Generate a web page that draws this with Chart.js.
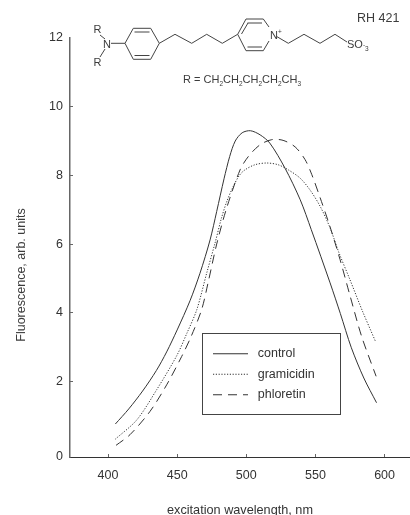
<!DOCTYPE html>
<html>
<head>
<meta charset="utf-8">
<script src="https://cdn.jsdelivr.net/npm/chart.js@4"></script>
<style>
    html, body { margin: 0; padding: 0; background: #fff; }
    #wrap { position: relative; width: 410px; height: 515px; }
    #mol { position: absolute; left: 0; top: 0; pointer-events: none; }
    #mol text { font-family: "Liberation Sans", Arial, sans-serif; font-size: 11px; fill: #3c3c3c; }
    #mol .sub { font-size: 6.5px; }
    #mol .big { font-size: 12.5px; }
</style>
</head>
<body>
<div id="wrap">
    <canvas id="chart" width="410" height="515"></canvas>
    <svg id="mol" width="410" height="515" fill="none" stroke="#444" stroke-width="1">
        <polygon points="125,43.3 133.3,28.3 150.7,28.3 159.3,43.3 150.7,59.3 133.3,59.3"/>
        <path d="M134.5,32 H149.5 M134.5,55.5 H149.5"/>
        <polyline points="159.3,43.3 175,34.3 191.7,43.3 206.7,34.3 222.3,43.3 237.7,34.3"/>
        <polyline points="269,27 263.3,19 246,19 237.7,34.3 246,50.7 263.3,50.7 269,41"/>
        <path d="M247.5,23 H262 M247.5,47 H262 M241.5,34 L248,23"/>
        <polyline points="277,36.7 288.3,43.3 304,34.3 320,43.3 335,34.3 347,42"/>
        <path d="M111,43.3 H125 M100,35 L105,39 M100,57 L105,49"/>
        <g stroke="none">
            <text x="93.5" y="33">R</text>
            <text x="103" y="48">N</text>
            <text x="93.5" y="66">R</text>
            <text x="270" y="39">N<tspan class="sub" dy="-5">+</tspan></text>
            <text x="347" y="48">SO<tspan class="sub" dy="-1">-</tspan><tspan class="sub" dy="4">3</tspan></text>
            <text class="big" x="357" y="22">RH 421</text>
            <text x="183" y="83">R = CH<tspan class="sub" dy="3">2</tspan><tspan dy="-3">CH</tspan><tspan class="sub" dy="3">2</tspan><tspan dy="-3">CH</tspan><tspan class="sub" dy="3">2</tspan><tspan dy="-3">CH</tspan><tspan class="sub" dy="3">2</tspan><tspan dy="-3">CH</tspan><tspan class="sub" dy="3">3</tspan></text>
            <text class="big" text-anchor="middle" transform="translate(25,275) rotate(-90)">Fluorescence, arb. units</text>
        </g>
    </svg>
</div>
<script>
const seriesNames = ['control', 'gramicidin', 'phloretin'];

const controlX = [405.3, 415, 425, 435, 442.4, 450, 459.3, 466.5, 473.8, 478.6, 483.9, 488, 492, 497, 503, 510, 517, 528, 539, 547, 560.6, 568, 576, 585, 594.2];
const controlY = [0.76, 1.2, 1.72, 2.32, 2.86, 3.5, 4.35, 5.15, 6.12, 6.95, 7.9, 8.55, 9.0, 9.24, 9.3, 9.18, 8.94, 8.21, 7.29, 6.42, 4.87, 3.98, 2.98, 2.1, 1.38];

const gramicidinX = [405.3, 420.8, 435.2, 449.7, 457, 464.2, 471.4, 477.4, 482, 486, 490.6, 495, 499, 506.3, 514.7, 523, 530.4, 538.9, 546, 553.4, 560.6, 567, 575, 584, 593.6];
const gramicidinY = [0.32, 0.88, 1.76, 2.75, 3.4, 4.09, 5.16, 6.03, 6.75, 7.25, 7.68, 8.0, 8.16, 8.31, 8.36, 8.31, 8.16, 7.92, 7.58, 7.1, 6.47, 5.75, 4.96, 4.05, 3.15];

const phloretinX = [405.8, 415.9, 430.4, 442.4, 453.3, 460, 467.7, 472.5, 478.6, 485.8, 495.5, 501.5, 509.9, 518.4, 526.6, 535.3, 542.5, 547.4, 553.4, 560.6, 567.8, 575, 583.5, 593.9];
const phloretinY = [0.14, 0.45, 1.13, 1.9, 2.73, 3.3, 4.09, 4.9, 6.0, 7.05, 8.16, 8.55, 8.89, 9.04, 9.02, 8.83, 8.46, 8.02, 7.35, 6.5, 5.55, 4.5, 3.3, 2.15];

const xTicks = [400, 450, 500, 550, 600];
// the 0 tick sits a bit below where the spacing of the other ticks would put it
const yTicks = [-0.2, 2, 4, 6, 8, 10, 12];

const inkColor = '#333';
const fontFamily = '"Liberation Sans", Arial, sans-serif';

function pairs(xs, ys) {
    return xs.map((x, i) => ({ x: x, y: ys[i] }));
}

function makeSeries(name, xs, ys, dash) {
    return {
        label: name,
        data: pairs(xs, ys),
        borderColor: inkColor,
        backgroundColor: inkColor,
        borderWidth: 1,
        borderDash: dash,
        pointRadius: 0,
        tension: 0.3
    };
}

// legend sits inside the plot, in its own frame
const legendFrame = {
    id: 'legendFrame',
    afterLayout(chart) {
        const l = chart.legend;
        l.left = 205;
        l.right = 340;
        l.top = 339.5;
        l.bottom = 414;
    },
    afterDraw(chart) {
        const c = chart.ctx;
        c.save();
        c.strokeStyle = '#444';
        c.lineWidth = 1;
        c.strokeRect(202.5, 333.5, 138, 81);
        c.restore();
    }
};

new Chart(document.getElementById('chart').getContext('2d'), {
    type: 'line',
    data: {
        datasets: [
            makeSeries(seriesNames[0], controlX, controlY, []),
            makeSeries(seriesNames[1], gramicidinX, gramicidinY, [1.2, 1.6]),
            makeSeries(seriesNames[2], phloretinX, phloretinY, [9, 6])
        ]
    },
    plugins: [legendFrame],
    options: {
        responsive: false,
        animation: false,
        layout: { padding: { top: 38, right: 0, left: 0, bottom: 0 } },
        plugins: {
            tooltip: { enabled: false },
            legend: {
                position: 'chartArea',
                align: 'start',
                labels: {
                    usePointStyle: true,
                    pointStyle: 'line',
                    pointStyleWidth: 35,
                    boxHeight: 12,
                    padding: 8,
                    color: inkColor,
                    font: { family: fontFamily, size: 12.5 },
                    generateLabels(chart) {
                        const items = Chart.defaults.plugins.legend.labels.generateLabels(chart);
                        items.forEach((item, i) => {
                            item.lineDash = chart.data.datasets[i].borderDash;
                            item.text = ' ' + item.text;
                        });
                        return items;
                    }
                }
            }
        },
        scales: {
            x: {
                type: 'linear',
                min: 372.5,
                max: 618.4,
                afterBuildTicks(axis) { axis.ticks = xTicks.map(v => ({ value: v })); },
                afterFit(axis) { axis.height = 58; },
                border: { color: inkColor, width: 1 },
                grid: { drawOnChartArea: false, tickLength: -3, tickColor: '#666', tickWidth: 1 },
                ticks: { color: inkColor, padding: 14, maxRotation: 0, font: { family: fontFamily, size: 12.5 } },
                title: {
                    display: true,
                    text: 'excitation wavelength, nm',
                    color: inkColor,
                    padding: { top: 16, bottom: -3 },
                    font: { family: fontFamily, size: 12.7 }
                }
            },
            y: {
                min: -0.2,
                max: 12,
                afterBuildTicks(axis) { axis.ticks = yTicks.map(v => ({ value: v })); },
                afterFit(axis) { axis.width = 70; },
                border: { color: '#666', width: 1.5 },
                grid: {
                    drawOnChartArea: false,
                    tickLength: -3,
                    tickWidth: 1,
                    tickColor: c => (c.tick && c.tick.value === 12 ? 'transparent' : '#666')
                },
                ticks: {
                    color: inkColor,
                    padding: 10,
                    callback: v => (v < 0 ? '0' : v),
                    font: { family: fontFamily, size: 12.5 }
                }
            }
        }
    }
});
</script>
</body>
</html>
